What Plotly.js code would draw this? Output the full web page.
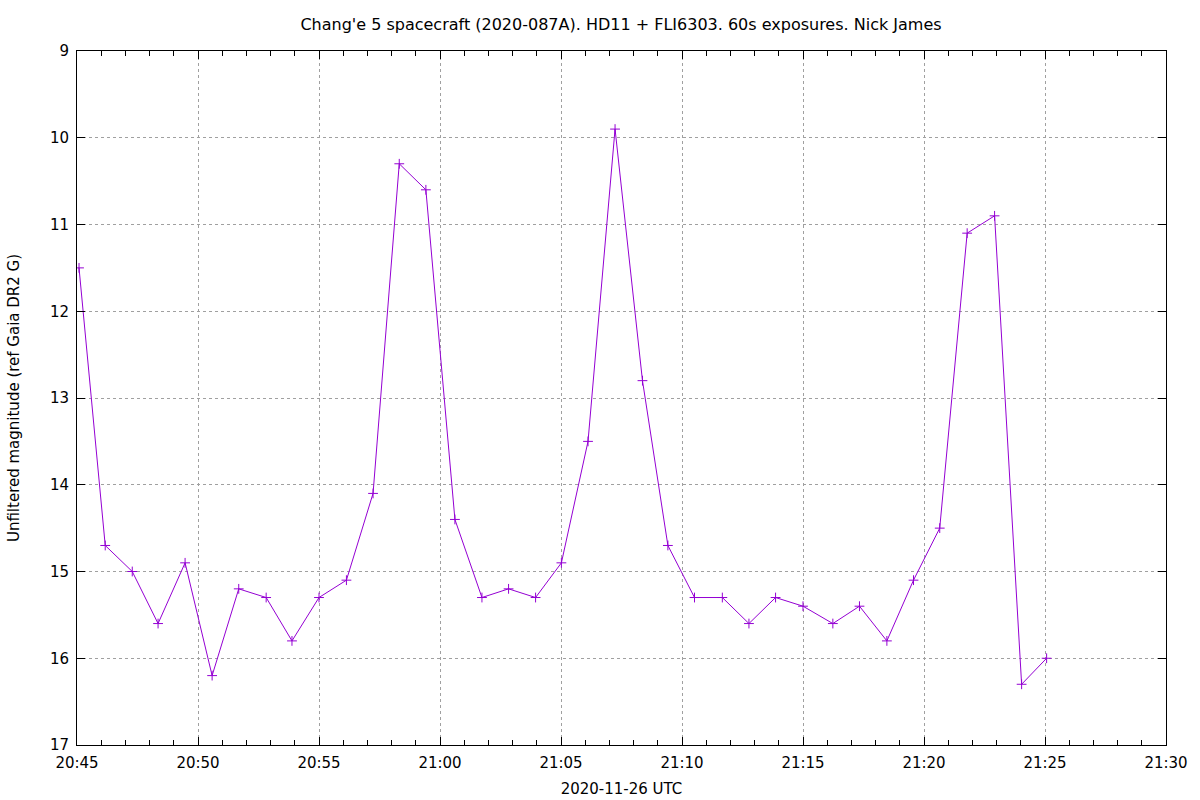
<!DOCTYPE html>
<html>
<head>
<meta charset="utf-8">
<script src="https://cdn.plot.ly/plotly-3.0.1.min.js"></script>
<style>html,body{margin:0;padding:0;background:#fff;}#chart{width:1200px;height:800px;}</style>
</head>
<body>
<div id="chart"></div>
<script>
const obsDate = '2020-11-26';
const obsTimes = ['20:45:05','20:46:10','20:47:17','20:48:21','20:49:28','20:50:35','20:51:41','20:52:49','20:53:53','20:55:00',
  '20:56:08','20:57:14','20:58:19','20:59:25','21:00:37','21:01:44','21:02:50','21:03:57','21:05:01','21:06:07',
  '21:07:14','21:08:22','21:09:25','21:10:31','21:11:40','21:12:46','21:13:52','21:15:00','21:16:14','21:17:20',
  '21:18:28','21:19:34','21:20:39','21:21:47','21:22:55','21:24:02','21:25:04'];
const magnitudes = [11.5,14.7,15.0,15.6,14.9,16.2,15.2,15.3,15.8,15.3,
  15.1,14.1,10.3,10.6,14.4,15.3,15.2,15.3,14.9,13.5,
  9.9,12.8,14.7,15.3,15.3,15.6,15.3,15.4,15.6,15.4,
  15.8,15.1,14.5,11.1,10.9,16.3,16.0];
const xRange = ['20:45:00','21:30:00'];
const yRange = [17, 9];
const titleText = "Chang'e 5 spacecraft (2020-087A). HD11 + FLI6303. 60s exposures. Nick James";
const xTitle = '2020-11-26 UTC';
const yTitle = 'Unfiltered magnitude (ref Gaia DR2 G)';

const font = {family: 'DejaVu Sans, sans-serif', size: 15, color: '#000'};
const titleFont = {family: 'DejaVu Sans, sans-serif', size: 16, color: '#000'};
const trace = {
  x: obsTimes.map(t => obsDate + ' ' + t),
  y: magnitudes,
  type: 'scatter',
  mode: 'lines+markers',
  line: {color: '#9400d3', width: 1},
  marker: {symbol: 'cross-thin-open', size: 7, color: '#9400d3', line: {color: '#9400d3', width: 1}},
  showlegend: false,
  hoverinfo: 'x+y'
};
const layout = {
  width: 1200, height: 800,
  margin: {l: 77, r: 34, t: 51, b: 55, pad: 0},
  paper_bgcolor: '#fff', plot_bgcolor: '#fff',
  font: font,
  title: {text: titleText, font: titleFont, x: 0.5175, xanchor: 'center', y: 0.97, yanchor: 'middle'},
  xaxis: {
    type: 'date',
    range: xRange.map(t => obsDate + ' ' + t),
    dtick: 300000,
    tick0: obsDate + ' 20:45:00',
    tickformat: '%H:%M',
    ticks: 'inside', ticklen: 8, tickwidth: 1, tickcolor: '#000',
    showline: true, linecolor: '#000', linewidth: 1, mirror: 'ticks',
    showgrid: true, gridcolor: '#a0a0a0', griddash: 'dot', gridwidth: 1,
    zeroline: false,
    minor: {dtick: 60000, ticks: 'inside', ticklen: 5, tickcolor: '#000', showgrid: false},
    tickfont: font,
    ticklabelstandoff: 4,
    title: {text: xTitle, font: font, standoff: 12}
  },
  yaxis: {
    range: yRange,
    dtick: 1,
    ticks: 'inside', ticklen: 8, tickwidth: 1, tickcolor: '#000',
    showline: true, linecolor: '#000', linewidth: 1, mirror: 'ticks',
    showgrid: true, gridcolor: '#a0a0a0', griddash: 'dot', gridwidth: 1,
    zeroline: false,
    tickfont: font,
    ticklabelstandoff: 4,
    title: {text: yTitle, font: font, standoff: 26}
  }
};
Plotly.newPlot('chart', [trace], layout, {displayModeBar: false, staticPlot: true});
</script>
</body>
</html>
